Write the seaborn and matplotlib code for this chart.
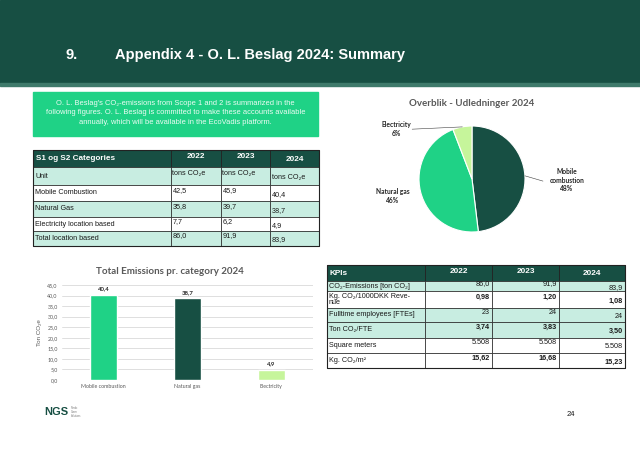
import matplotlib
matplotlib.use("Agg")
import matplotlib.pyplot as plt
import seaborn as sns
import numpy as np
from matplotlib.patches import Rectangle

# --- data ---
categories = ["Mobile combustion", "Natural gas", "Electricity"]
emissions_2024 = [40.4, 38.7, 4.9]

s_years = ["2022", "2023", "2024"]
s_rows = ["Unit", "Mobile Combustion", "Natural Gas", "Electricity location based", "Total location based"]
s_2022 = ["tons CO\u2082e", "42,5", "35,8", "7,7", "86,0"]
s_2023 = ["tons CO\u2082e", "45,9", "39,7", "6,2", "91,9"]
s_2024 = ["tons CO\u2082e", "40,4", "38,7", "4,9", "83,9"]

kpi_rows = ["CO\u2082-Emissions [ton CO\u2082]", "Kg. CO\u2082/1000DKK Reve-\nnue", "Fulltime employees [FTEs]",
            "Ton CO\u2082/FTE", "Square meters", "Kg. CO\u2082/m\u00b2"]
kpi_2022 = ["86,0", "0,98", "23", "3,74", "5.508", "15,62"]
kpi_2023 = ["91,9", "1,20", "24", "3,83", "5.508", "16,68"]
kpi_2024 = ["83,9", "1,08", "24", "3,50", "5.508", "15,23"]
kpi_bold = [False, True, False, True, False, True]

intro = ("O. L. Beslag's CO\u2082-emissions from Scope 1 and 2 is summarized in the\n"
         "following figures. O. L. Beslag is committed to make these accounts available\n"
         "annually, which will be available in the EcoVadis platform.")

DARK = "#174f43"
BRIGHT = "#1fd286"
LIGHT = "#c6f59b"
TEAL = "#c8ede1"
GRAY = "#595959"

sns.set_theme(style="white")
plt.rcParams['font.family'] = ['Liberation Sans', 'DejaVu Sans']

fig = plt.figure(figsize=(6.4, 4.53), dpi=100)
bg = fig.add_axes([0, 0, 1, 1])
bg.set_xlim(0, 640)
bg.set_ylim(453, 0)
bg.axis('off')

# header band
bg.add_patch(Rectangle((0, 0), 640, 83, color=DARK, zorder=1))
bg.add_patch(Rectangle((0, 83), 640, 2.5, color="#3f7a6b", zorder=1))
bg.text(65, 55, "9.", color="white", fontsize=10.5, fontweight="bold", va="center")
bg.text(115, 55, "Appendix 4 - O. L. Beslag 2024: Summary", color="white",
        fontsize=10.5, fontweight="bold", va="center")

# intro box
bg.add_patch(Rectangle((33, 92), 285, 44, color=BRIGHT, zorder=1))
bg.text(175.5, 113, intro, color="#eefcf5", fontsize=5.4, ha="center", va="center",
        linespacing=1.45, zorder=2)


def draw_table(xs, ys, header, labels, cols, fills, align, col_dy, bold_rows=None):
    # header
    for i in range(len(xs) - 1):
        bg.add_patch(Rectangle((xs[i], ys[0]), xs[i + 1] - xs[i], ys[1] - ys[0],
                               facecolor=DARK, edgecolor="#222222", lw=0.6, zorder=2))
    bg.text(xs[0] + 3, (ys[0] + ys[1]) / 2 + 0.5, header[0], color="white", fontsize=5.9,
            fontweight="bold", va="center", zorder=3)
    for j, yr in enumerate(header[1:]):
        cx = (xs[j + 1] + xs[j + 2]) / 2
        bg.text(cx, (ys[0] + ys[1]) / 2 + col_dy[j] * 0.6, yr, color="white", fontsize=5.9,
                fontweight="bold", ha="center", va="center", zorder=3)
    # body
    for r, lab in enumerate(labels):
        y0, y1 = ys[r + 1], ys[r + 2]
        for i in range(len(xs) - 1):
            bg.add_patch(Rectangle((xs[i], y0), xs[i + 1] - xs[i], y1 - y0,
                                   facecolor=fills[r], edgecolor="#222222", lw=0.5, zorder=2))
        bw = "bold" if (bold_rows and bold_rows[r]) else "normal"
        bg.text(xs[0] + 2, (y0 + y1) / 2, lab, fontsize=5.2, va="center", color="#1a1a1a",
                linespacing=1.0, zorder=3)
        for j, col in enumerate(cols):
            yy = (y0 + y1) / 2 + col_dy[j]
            if align == "left":
                bg.text(xs[j + 1] + 1.5, yy, col[r], fontsize=5.2, va="center",
                        color="#1a1a1a", fontweight=bw, zorder=3)
            else:
                bg.text(xs[j + 2] - 2, yy, col[r], fontsize=5.2, va="center", ha="right",
                        color="#1a1a1a", fontweight=bw, zorder=3)
    bg.add_patch(Rectangle((xs[0], ys[0]), xs[-1] - xs[0], ys[-1] - ys[0],
                           fill=False, edgecolor="#222222", lw=0.8, zorder=4))


draw_table([33, 171, 221, 270, 319], [150, 167, 185, 201, 217, 231, 246],
           ["S1 og S2 Categories"] + s_years, s_rows, [s_2022, s_2023, s_2024],
           [TEAL, "white", TEAL, "white", TEAL], "left", [-2.5, -2.5, 1.5])

draw_table([327, 425, 492, 559, 625], [265, 281, 291, 308, 322, 338, 353, 368],
           ["KPIs"] + s_years, kpi_rows, [kpi_2022, kpi_2023, kpi_2024],
           [TEAL, "white", TEAL, TEAL, "white", "white"], "right", [-2.5, -2.5, 1.5], kpi_bold)

# pie chart
cx, cy, rad = 472, 179, 53
pax = fig.add_axes([(cx - rad) / 640, (453 - cy - rad) / 453, 2 * rad / 640, 2 * rad / 453])
pie_colors = [DARK, BRIGHT, LIGHT]
wedges, _ = pax.pie(emissions_2024, colors=pie_colors, startangle=90, counterclock=False,
                    wedgeprops=dict(edgecolor="white", linewidth=0.8))
pax.set_xlim(-1, 1)
pax.set_ylim(-1, 1)
total = sum(emissions_2024)
pie_names = ["Mobile\ncombustion", "Natural gas", "Electricity"]
label_pos = [(1.79, -0.02), (-1.49, -0.32), (-1.42, 0.94)]
leader = [True, False, True]
for w, name, v, pos, ld in zip(wedges, pie_names, emissions_2024, label_pos, leader):
    ang = np.deg2rad((w.theta1 + w.theta2) / 2)
    ex, ey = np.cos(ang), np.sin(ang)
    pct = f"{v / total * 100:.0f}%"
    pax.text(pos[0], pos[1], f"{name}\n{pct}", ha="center", va="center", fontsize=4.8,
             fontweight="bold", color="#262626", family=["Lato", "DejaVu Sans"],
             linespacing=1.3, clip_on=False)
    if ld:
        tx = pos[0] - 0.45 if pos[0] > 0 else pos[0] + 0.29
        ty = pos[1] - 0.02 if pos[0] > 0 else pos[1]
        pax.plot([ex, tx], [ey, ty], color="#404040", lw=0.4, clip_on=False)
bg.text(472, 103, "Overblik - Udledninger 2024", ha="center", va="center", fontsize=7,
        fontweight="bold", color=GRAY, family=["Lato", "DejaVu Sans"])

# bar chart
bax = fig.add_axes([62 / 640, (453 - 380) / 453, 251 / 640, 95 / 453])
bar_colors = [BRIGHT, DARK, LIGHT]
sns.barplot(x=categories, y=emissions_2024, hue=categories, palette=bar_colors,
            legend=False, width=0.32, saturation=1, ax=bax, zorder=3)
bax.set_ylim(0, 45)
bax.set_yticks(np.arange(0, 46, 5))
bax.set_yticklabels([f"{t:.1f}".replace(".", ",") for t in np.arange(0, 46, 5)])
bax.grid(axis="y", color="#d9d9d9", lw=0.6, zorder=0)
bax.set_axisbelow(True)
for s in bax.spines.values():
    s.set_visible(False)
bax.tick_params(axis="both", length=0, labelsize=3.8, labelcolor=GRAY, pad=3)
for lbl in bax.get_xticklabels() + bax.get_yticklabels():
    lbl.set_family(["Lato", "DejaVu Sans"])
bax.set_ylabel("Ton CO\u2082e", fontsize=4.5, color=GRAY, labelpad=4)
for c in bax.containers:
    bax.bar_label(c, labels=[f"{v:.1f}".replace(".", ",") for v in c.datavalues],
                  fontsize=4.3, fontweight="bold", color="#262626", padding=2.5,
                  family=["Lato", "DejaVu Sans"])
bg.text(170, 271, "Total Emissions pr. category 2024", ha="center", va="center",
        fontsize=7, fontweight="bold", color=GRAY, family=["Lato", "DejaVu Sans"])

# footer
bg.text(44, 412, "NGS", fontsize=8, fontweight="heavy", color=DARK, va="center")
bg.text(71, 412, "Nordic\nGreen\nSolutions", fontsize=1.8, color="#7a7a7a", va="center",
        linespacing=1.1)
bg.text(571, 414, "24", fontsize=5.5, color="#1a1a1a", va="center", ha="center")

fig.savefig("out.png", dpi=100)
